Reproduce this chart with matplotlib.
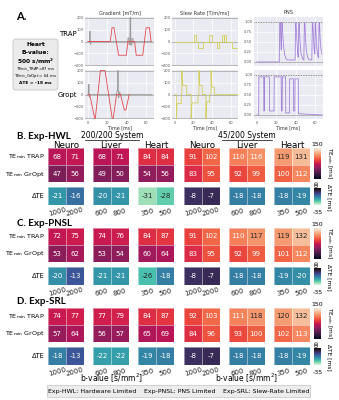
import matplotlib
matplotlib.use("Agg")
import matplotlib.pyplot as plt
import numpy as np
import seaborn as sns
from matplotlib.patches import Rectangle, FancyBboxPatch
from matplotlib.lines import Line2D
from matplotlib.colors import Normalize
from matplotlib.colorbar import ColorbarBase
from seaborn.utils import relative_luminance

# ---------------- data ----------------
groups = ["Neuro", "Liver", "Heart"]
bvals = [["1000", "2000"], ["600", "800"], ["350", "500"]]
systems = ["200/200 System", "45/200 System"]
exp_titles = ["B. Exp-HWL", "C. Exp-PNSL", "D. Exp-SRL"]

# [system][group] -> [b1, b2]
hwl_trap = [[[68, 71], [68, 71], [84, 84]], [[91, 102], [110, 116], [119, 131]]]
hwl_gropt = [[[47, 56], [49, 50], [54, 56]], [[83, 95], [92, 99], [100, 112]]]
hwl_dte = [[[-21, -16], [-20, -21], [-31, -28]], [[-8, -7], [-18, -18], [-18, -19]]]

pnsl_trap = [[[72, 75], [74, 76], [84, 87]], [[91, 102], [110, 117], [119, 132]]]
pnsl_gropt = [[[53, 62], [53, 54], [60, 64]], [[83, 95], [92, 99], [101, 112]]]
pnsl_dte = [[[-20, -13], [-21, -21], [-26, -18]], [[-8, -7], [-18, -18], [-19, -20]]]

srl_trap = [[[74, 77], [77, 79], [84, 87]], [[92, 103], [111, 118], [120, 132]]]
srl_gropt = [[[57, 64], [56, 57], [65, 69]], [[84, 96], [93, 100], [102, 113]]]
srl_dte = [[[-18, -13], [-22, -22], [-19, -18]], [[-8, -7], [-18, -18], [-18, -19]]]

# waveforms (time in ms)
trap_g_t = [0, 23.0, 24.8, 26.8, 31.6, 39.5, 41.2, 48.0, 49.7, 56.4, 59.9, 63.3, 65.0]
trap_g_v = [0, 0, 115, 115, -115, -115, 0, 0, -115, -115, 115, 115, 0]
trap_i_t = [0, 1.6, 1.7, 2.4, 2.5, 3.0, 3.1, 41.0, 41.2, 42.2, 42.4, 43.2, 43.4, 44.0, 44.2, 45.2, 45.4, 46.4, 46.6, 47.4, 47.6, 66]
trap_i_v = [0, 0, 85, 85, -22, -22, 0, 0, 30, 30, -25, -25, 200, 200, -30, -30, 25, 25, -10, -10, 0, 0]
gropt_g_t = [0, 1.8, 7.0, 7.6, 12.8, 17.6, 25.0, 26.0, 29.5, 33.5, 37.5, 39.0, 42.5]
gropt_g_v = [0, 0, -200, -200, 200, 200, -200, -200, 0, 0, -130, -130, 0]
gropt_i_t = [0, 0.4, 0.5, 1.2, 1.3, 1.6, 1.7, 29.5, 29.7, 30.5, 30.7, 31.2, 31.4, 32.0, 32.2, 33.0, 33.2, 66]
gropt_i_v = [0, 0, 85, 85, -22, -22, 0, 0, 30, 30, 200, 200, -25, -25, 20, 20, 0, 0]

trap_s_t = [0, 20.7, 20.7, 23.2, 23.2, 24.9, 24.9, 30.2, 30.2, 37.3, 37.3, 39.8, 39.8, 45.5, 45.5, 47.9, 47.9,
            50.4, 50.4, 52.5, 52.5, 53.0, 53.0, 55.0, 55.0, 62.0, 62.0, 67.0]
trap_s_v = [0, 0, 58, 58, 0, 0, -56, -56, 0, 0, 58, 58, 0, 0, -56, -56, 0,
            0, 58, 58, 0, 0, 58, 58, 0, 0, -56, -56]
gropt_s_t = [0, 1.8, 1.8, 2.3, 3.0, 7.0, 7.0, 7.6, 7.6, 8.2, 9.0, 12.8, 12.8, 17.6, 17.6, 18.2, 19.0, 25.0, 25.0,
             26.0, 26.0, 26.6, 27.4, 29.5, 29.5, 33.5, 33.5, 34.0, 34.8, 37.5, 37.5, 39.0, 39.0, 39.6, 40.4, 42.5, 42.5, 67]
gropt_s_v = [0, 0, -200, -90, -75, -75, 0, 0, 200, 90, 75, 75, 0, 0, -200, -90, -70, -70, 0,
             0, 200, 90, 75, 75, 0, 0, -200, -80, -60, -60, 0, 0, 200, 80, 60, 60, 0, 0]

trap_p_t = [0, 23.0, 23.5, 24.0, 24.6, 25.1, 25.6, 26.1, 26.8, 27.6, 28.6, 29.8, 31.5, 39.3, 39.8, 40.3, 41.0, 41.8,
            42.5, 43.0, 43.5, 44.3, 45.3, 47.0, 48.3, 48.8, 49.3, 50.0, 50.8, 52.0, 53.5, 56.5, 57.0, 57.5, 58.2, 59.0,
            59.6, 60.0, 60.4, 61.0, 61.8, 62.6, 63.4, 63.9, 64.4, 65.0, 65.8, 66.8]
trap_p_v = [0, 0, 0.95, 0.98, 0.55, 0.3, 0.95, 0.98, 0.6, 0.35, 0.18, 0.09, 0.05, 0.05, 0.95, 0.98, 0.6, 0.25,
            0.12, 0.9, 0.97, 0.55, 0.22, 0.08, 0.05, 0.95, 0.98, 0.6, 0.3, 0.13, 0.06, 0.05, 0.95, 0.98, 0.6, 0.3,
            0.2, 0.95, 0.98, 0.6, 0.3, 0.15, 0.1, 0.95, 0.98, 0.6, 0.35, 0.2]
gropt_p_t = [0, 1.8, 2.0, 7.0, 7.2, 7.6, 7.8, 12.8, 13.0, 17.6, 17.8, 25.0, 25.2, 26.0, 26.2, 29.5, 29.7, 33.5, 33.7,
             37.5, 37.7, 39.0, 39.2, 42.5, 42.7, 67]
gropt_p_v = [0, 0, 0.95, 0.95, 0.1, 0.1, 0.95, 0.95, 0.1, 0.1, 0.95, 0.95, 0.1, 0.1, 0.95, 0.95, 0.05, 0.05, 0.9,
             0.9, 0.1, 0.1, 0.9, 0.9, 0.03, 0.0]

# ---------------- figure ----------------
W, H = 339, 400
fig = plt.figure(figsize=(W / 100, H / 100), dpi=100)
fig.patch.set_facecolor("white")


def px_axes(x0, y0, x1, y1):
    return fig.add_axes([x0 / W, 1 - y1 / H, (x1 - x0) / W, (y1 - y0) / H])


def ftext(x, y, s, **kw):
    kw.setdefault("ha", "center")
    kw.setdefault("va", "center")
    return fig.text(x / W, 1 - y / H, s, **kw)


rocket = sns.color_palette("rocket", as_cmap=True)
mako_r = sns.color_palette("mako_r", as_cmap=True)
te_norm = Normalize(0, 150)
dte_norm = Normalize(-35, 0)

# ---------------- panel A ----------------
ftext(16, 17, "A.", fontsize=8, fontweight="bold", ha="left", family="Lato")
box = FancyBboxPatch((13 / W, 1 - 90 / H), 45 / W, 51 / H, boxstyle="round,pad=0,rounding_size=0.008",
                     transform=fig.transFigure, fc="#ebebeb", ec="#c4c4c4", lw=0.6)
fig.patches.append(box)
ftext(35.5, 45, "Heart", fontsize=4.3, fontweight="bold")
ftext(35.5, 53, "B-value:", fontsize=4.3, fontweight="bold")
ftext(35.5, 61, "500 s/mm$^\\mathbf{2}$", fontsize=4.3, fontweight="bold")
ftext(35.5, 69, "TE$_{\\rm min}$_TRAP=87 ms", fontsize=2.8)
ftext(35.5, 76, "TE$_{\\rm min}$_GrOpt = 64 ms", fontsize=2.8)
ftext(35.5, 83, "ΔTE = -18 ms", fontsize=3.2, fontweight="bold")
ftext(68, 34, "TRAP", fontsize=5)
ftext(67, 95, "Gropt", fontsize=5)

cols = [(85, 154), (172, 238), (254, 323)]
rows = [(17, 66), (70, 119)]
titles = ["Gradient [mT/m]", "Slew Rate [T/m/ms]", "PNS"]
red, grey, yel, pur = "#e0484e", "#9a9a9a", "#d2cf5c", "#a583da"

waves = [
    [[(trap_i_t, trap_i_v, grey), (trap_g_t, trap_g_v, red)],
     [(trap_s_t, trap_s_v, yel)],
     [(trap_p_t, trap_p_v, pur)]],
    [[(gropt_i_t, gropt_i_v, grey), (gropt_g_t, gropt_g_v, red)],
     [(gropt_s_t, gropt_s_v, yel)],
     [(gropt_p_t, gropt_p_v, pur)]],
]

for r, (y0, y1) in enumerate(rows):
    for c, (x0, x1) in enumerate(cols):
        ax = px_axes(x0, y0, x1, y1)
        ax.set_facecolor("#eaeaf2")
        for s in ax.spines.values():
            s.set_visible(False)
        ax.grid(True, color="white", lw=0.5)
        ax.set_axisbelow(True)
        ax.tick_params(length=0, labelsize=2.6, pad=1.2, colors="#555555")
        ax.set_xlim(-3, 68)
        ax.set_xticks([0, 20, 40, 60])
        if c < 2:
            ax.set_ylim(-205, 205)
            ax.set_yticks([-200, -100, 0, 100, 200])
            ax.axhline(200, color="#aaaaaa", lw=0.6)
            ax.axhline(-200, color="#aaaaaa", lw=0.6)
            ax.axhline(0, color="#aaaaaa", lw=0.6)
        else:
            ax.set_ylim(-0.1, 1.12)
            ax.set_yticks([0, 0.25, 0.5, 0.75, 1.0])
            ax.set_yticklabels(["0.00", "0.25", "0.50", "0.75", "1.00"])
            ax.axhline(1.0, color="#666666", lw=0.6, ls=(0, (1, 1)))
            ax.axhline(0, color="#aaaaaa", lw=0.6)
        for (t, v, col) in waves[r][c]:
            ax.plot(t, v, color=col, lw=0.6, clip_on=True)
        if r == 0:
            ax.tick_params(labelbottom=False)
            ax.set_title(titles[c], fontsize=3.6, pad=2, color="#333333")
        else:
            ax.set_xlabel("Time [ms]", fontsize=3.4, labelpad=0.5, color="#333333")

# ---------------- panels B-D ----------------
block_x = [48, 93, 138, 184, 229, 274]
bw = 36
te_tops = [148, 228, 308]
title_y = [136, 223, 301]
exps = [(hwl_trap, hwl_gropt, hwl_dte), (pnsl_trap, pnsl_gropt, pnsl_dte), (srl_trap, srl_gropt, srl_dte)]


def annot(ax, arr, cmap, norm):
    for i in range(arr.shape[0]):
        for j in range(arr.shape[1]):
            v = arr[i, j]
            lum = relative_luminance(cmap(norm(v)))
            tc = ".15" if lum > .408 else "w"
            ax.text(j + 0.5, i + 0.5, f"{v:d}", ha="center", va="center", fontsize=5, color=tc)


def heat(ax, arr, cmap, norm):
    ax.pcolormesh(np.arange(arr.shape[1] + 1), np.arange(arr.shape[0] + 1), arr, cmap=cmap, norm=norm,
                  edgecolors=(1, 1, 1, 0.45), linewidth=0.5)
    ax.set_xlim(0, arr.shape[1])
    ax.set_ylim(arr.shape[0], 0)
    ax.axis("off")
    annot(ax, arr, cmap, norm)


for e, (trap, gropt, dte) in enumerate(exps):
    top = te_tops[e]
    ftext(17, title_y[e], exp_titles[e], fontsize=7, fontweight="bold", ha="left", family="Lato")
    ftext(45, top + 8.5, "TE$_{\\rm min}$ TRAP", fontsize=4.6, ha="right")
    ftext(45, top + 26, "TE$_{\\rm min}$ GrOpt", fontsize=4.6, ha="right")
    ftext(45, top + 48, "ΔTE", fontsize=4.8, ha="right")
    for s in range(2):
        for g in range(3):
            x0 = block_x[s * 3 + g]
            arr = np.array([trap[s][g], gropt[s][g]])
            ax = px_axes(x0, top, x0 + bw, top + 34)
            heat(ax, arr, rocket, te_norm)
            ax2 = px_axes(x0, top + 39, x0 + bw, top + 57)
            heat(ax2, np.array([dte[s][g]]), mako_r, dte_norm)
            for k in range(2):
                ftext(x0 + 9 + 18 * k, top + 64, bvals[g][k], fontsize=5, rotation=15,
                      color="#222222")
            if e == 0:
                ftext(x0 + bw / 2, 145, groups[g], fontsize=6.3)
    # colorbars
    cax = px_axes(314, top, 321, top + 31)
    cb = ColorbarBase(cax, cmap=rocket, norm=te_norm)
    cb.set_ticks([])
    cb.outline.set_visible(False)
    ftext(317.5, top - 4, "150", fontsize=4.5)
    ftext(317.5, top + 35, "0", fontsize=4.5, rotation=90)
    ftext(329, top + 15, "TE$_{\\rm min}$ [ms]", fontsize=4.2, rotation=270)
    cax2 = px_axes(314, top + 40, 321, top + 57)
    cb2 = ColorbarBase(cax2, cmap=mako_r, norm=dte_norm)
    cb2.set_ticks([])
    cb2.outline.set_visible(False)
    ftext(317.5, top + 37.5, "0", fontsize=4.5, rotation=90)
    ftext(317.5, top + 65, "-35", fontsize=4.5)
    ftext(329, top + 49, "ΔTE [ms]", fontsize=4.2, rotation=270)

# system titles
for s, (cx, x0, x1) in enumerate([(112, 85, 139), (247, 222, 272)]):
    ftext(cx, 135, systems[s], fontsize=5.5)
    fig.add_artist(Line2D([x0 / W, x1 / W], [1 - 139.5 / H, 1 - 139.5 / H], color="black", lw=0.5))
    ftext(cx, 378, "b-value [s/mm$^2$]", fontsize=5.5)

# bottom legend box
leg = Rectangle((47 / W, 1 - 397 / H), 263 / W, 12 / H, transform=fig.transFigure,
                fc="#ececec", ec="#cccccc", lw=0.6)
fig.patches.append(leg)
ftext(92, 391, "Exp-HWL: Hardware Limited", fontsize=4.5)
ftext(180, 391, "Exp-PNSL: PNS Limited", fontsize=4.5)
ftext(266, 391, "Exp-SRL: Slew-Rate Limited", fontsize=4.5)

fig.savefig("out.png", dpi=100)
